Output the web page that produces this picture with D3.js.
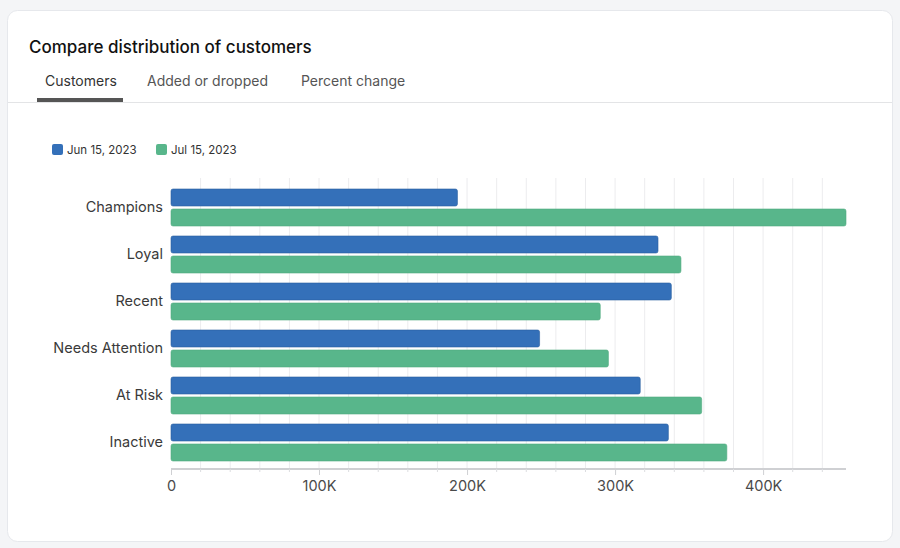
<!DOCTYPE html>
<html lang="en">
  <head>
    <meta charset="utf-8">
    <title>Compare distribution of customers</title>
    <script src="https://cdn.jsdelivr.net/npm/d3@7"></script>
    <style>
      body { margin: 0; background: #f4f5f7; font-family: Inter, 'Noto Sans', sans-serif; }
    </style>
  </head>

  <body>
    <div id='chart'></div>

    <script type='text/javascript'>
      // data
      const segments = ['Champions', 'Loyal', 'Recent', 'Needs Attention', 'At Risk', 'Inactive']
      const seriesNames = ['Jun 15, 2023', 'Jul 15, 2023']
      const jun15 = [193500, 329000, 338000, 249000, 317000, 336000]
      const jul15 = [456000, 344500, 290000, 295500, 358500, 375500]
      const tabs = ['Customers', 'Added or dropped', 'Percent change']
      const tabX = [45, 147, 301]
      const colors = ['#3470b9', '#58b68b']

      let svg = d3.select('#chart').append('svg')
        .attr('width', 900)
        .attr('height', 548)

      // card
      svg.append('rect')
        .attr('x', 7.5).attr('y', 10.5)
        .attr('width', 885).attr('height', 531)
        .attr('rx', 10)
        .style('fill', '#fff')
        .style('stroke', '#e6e8ec')

      svg.append('text')
        .attr('x', 29).attr('y', 53)
        .attr('font-size', '17px')
        .attr('font-weight', 500)
        .attr('fill', '#111')
        .text('Compare distribution of customers')

      svg.selectAll('.tab')
        .data(tabs)
        .enter()
        .append('text')
        .attr('class', 'tab')
        .attr('x', (d, i) => tabX[i])
        .attr('y', 86)
        .attr('font-size', '14px')
        .attr('fill', (d, i) => i == 0 ? '#333' : '#555')
        .text(d => d)

      svg.append('line')
        .attr('x1', 8).attr('x2', 892)
        .attr('y1', 102.5).attr('y2', 102.5)
        .style('stroke', '#e3e4e6')
      svg.append('rect')
        .attr('x', 37).attr('y', 98)
        .attr('width', 86).attr('height', 4)
        .style('fill', '#555')

      // legend
      let legend = svg.selectAll('.legend')
        .data(seriesNames)
        .enter()
        .append('g')
        .attr('class', 'legend')
        .attr('transform', (d, i) => 'translate(' + (52 + i * 104) + ',144)')
      legend.append('rect')
        .attr('width', 11).attr('height', 11).attr('rx', 2)
        .style('fill', (d, i) => colors[i])
      legend.append('text')
        .attr('x', 15).attr('y', 9.5)
        .attr('font-size', '11.5px')
        .attr('fill', '#333')
        .text(d => d)

      // scales
      let scale_x = d3.scaleLinear()
        .domain([0, d3.max(jun15.concat(jul15))])
        .range([171, 846])

      let scale_y = d3.scaleBand()
        .domain(segments)
        .range([184, 466])
        .paddingInner(10 / 47)
        .paddingOuter(5 / 47)

      let scale_sub = d3.scaleBand()
        .domain([0, 1])
        .range([0, scale_y.bandwidth()])
        .paddingInner(0.15)

      const axisY = 469

      // gridlines every 20K
      let grid = d3.range(20000, scale_x.domain()[1], 20000)
      svg.selectAll('.grid')
        .data(grid)
        .enter()
        .append('line')
        .attr('class', 'grid')
        .attr('x1', d => scale_x(d)).attr('x2', d => scale_x(d))
        .attr('y1', 178).attr('y2', axisY)
        .style('stroke', '#ececee')

      // bars
      let rows = segments.map((s, i) => ({ name: s, values: [jun15[i], jul15[i]] }))
      let groups = svg.selectAll('.row')
        .data(rows)
        .enter()
        .append('g')
        .attr('class', 'row')
        .attr('transform', d => 'translate(0,' + scale_y(d.name) + ')')

      groups.selectAll('rect')
        .data(d => d.values)
        .enter()
        .append('rect')
        .attr('x', scale_x(0))
        .attr('y', (d, i) => scale_sub(i))
        .attr('width', d => scale_x(d) - scale_x(0))
        .attr('height', scale_sub.bandwidth())
        .attr('rx', 2)
        .style('fill', (d, i) => colors[i])
        .style('stroke', (d, i) => i == 0 ? '#2a5f9f' : '#52ab81')
        .style('stroke-width', 0.6)

      groups.append('text')
        .attr('x', 163)
        .attr('y', scale_y.bandwidth() / 2)
        .attr('dy', '0.3em')
        .attr('text-anchor', 'end')
        .attr('font-size', '14.5px')
        .attr('fill', '#3a3a3a')
        .text(d => d.name)

      // x axis
      let x_axis = d3.axisBottom(scale_x)
        .tickValues(d3.range(0, scale_x.domain()[1], 100000))
        .tickFormat(d => d == 0 ? '0' : d / 1000 + 'K')
        .tickSize(6)
        .tickPadding(6)
      let ax = svg.append('g')
        .attr('transform', 'translate(0,' + axisY + ')')
        .call(x_axis)
      ax.select('.domain').remove()
      ax.insert('line', ':first-child')
        .attr('x1', 171).attr('x2', 846)
        .style('stroke', '#cfd0d3')
        .style('stroke-width', 2)
      ax.selectAll('.tick line').style('stroke', '#cfd0d3')
      ax.selectAll('.tick text')
        .attr('font-size', '14.5px')
        .attr('font-family', 'Inter, sans-serif')
        .attr('fill', '#4a4a4a')
      ax.selectAll('.minor')
        .data(grid.filter(d => d % 100000 != 0))
        .enter()
        .append('line')
        .attr('class', 'minor')
        .attr('x1', d => scale_x(d)).attr('x2', d => scale_x(d))
        .attr('y1', 0).attr('y2', 3)
        .style('stroke', '#dcdde0')
    </script>
  </body>
</html>
